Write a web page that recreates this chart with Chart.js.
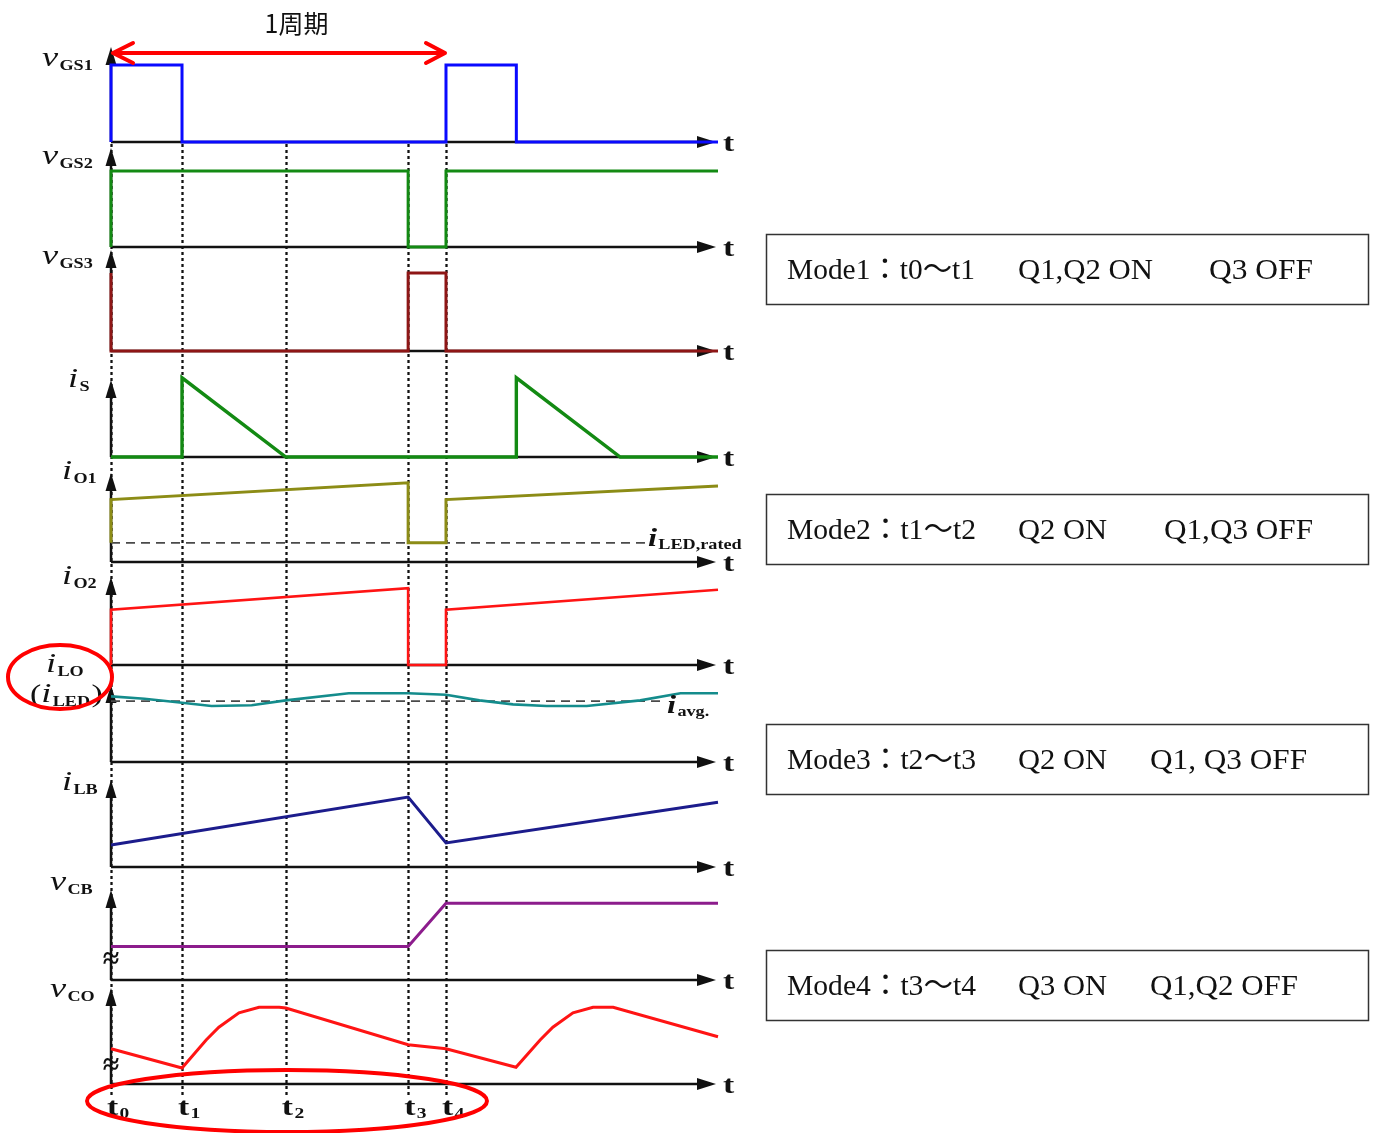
<!DOCTYPE html>
<html>
<head>
<meta charset="utf-8">
<title>1周期 動作モード波形</title>
<script src="https://cdn.jsdelivr.net/npm/chart.js@4/dist/chart.umd.min.js"></script>
<style>
  html, body { margin: 0; padding: 0; background: #ffffff; }
  canvas { display: block; }
</style>
</head>
<body>
<canvas id="wave" width="1375" height="1133"></canvas>
<script>
// ---- switching instants (one period: t0 .. t4) ----
const T0 = 0, T1 = 0.212, T2 = 0.522, T3 = 0.887, T4 = 1.0, T_END = 1.812;
const eventTimes = [T0, T1, T2, T3, T4];
const eventSubs = ['0', '1', '2', '3', '4'];

// ---- waveforms: [time, value] ----
const vGS1 = [[0, 0], [0, 1], [T1, 1], [T1, 0], [T4, 0], [T4, 1], [1.21, 1], [1.21, 0], [T_END, 0]];
const vGS2 = [[0, 0], [0, 1], [T3, 1], [T3, 0], [T4, 0], [T4, 1], [T_END, 1]];
const vGS3 = [[0, 1], [0, 0], [T3, 0], [T3, 1], [T4, 1], [T4, 0], [T_END, 0]];
const iS   = [[0, 0], [T1, 0], [T1, 0.99], [T2, 0], [1.21, 0], [1.21, 0.99], [1.52, 0], [T_END, 0]];
const iO1  = [[0, 0.24], [0, 0.78], [T3, 0.99], [T3, 0.24], [T4, 0.24], [T4, 0.78], [T_END, 0.95]];
const iO2  = [[0, 0], [0, 0.69], [T3, 0.96], [T3, 0], [T4, 0], [T4, 0.69], [T_END, 0.94]];
const iLO  = [[0, 0.82], [0.1, 0.79], [T1, 0.74], [0.3, 0.70], [0.42, 0.71], [T2, 0.77],
              [0.71, 0.86], [T3, 0.86], [T4, 0.84], [1.1, 0.77], [1.2, 0.72], [1.3, 0.70],
              [1.42, 0.70], [1.58, 0.77], [1.7, 0.86], [T_END, 0.86]];
const iLB  = [[0, 0.275], [T3, 0.875], [T4, 0.30], [T_END, 0.81]];
const vCB  = [[0, 0.42], [T3, 0.42], [T4, 0.96], [T_END, 0.96]];
const vCO  = [[0, 0.44], [T1, 0.20], [0.284, 0.55], [0.322, 0.71], [0.382, 0.89], [0.442, 0.96],
              [0.502, 0.96], [T2, 0.95], [T3, 0.49], [T4, 0.44], [1.209, 0.21], [1.281, 0.55],
              [1.319, 0.71], [1.379, 0.89], [1.439, 0.96], [1.499, 0.96], [T_END, 0.59]];

// reference levels
const iLEDrated = [[0, 0.24], [1.594, 0.24]];
const iAvg      = [[0, 0.76], [1.654, 0.76]];

// ---- mode table text ----
const modeText = [
  ['Mode1：t0～t1', 'Q1,Q2 ON', 'Q3 OFF'],
  ['Mode2：t1～t2', 'Q2 ON', 'Q1,Q3 OFF'],
  ['Mode3：t2～t3', 'Q2 ON', 'Q1, Q3 OFF'],
  ['Mode4：t3～t4', 'Q3 ON', 'Q1,Q2 OFF']
];
const periodLabel = '1周期';

// ---- panel layout / style (top to bottom) ----
// px: band height, unit: pixels per value unit, arrow: y-axis arrow length,
// lx/ly: label position (x, offset of baseline from the panel's zero line)
const panels = [
  { id: 'pVGS1', sym: 'v', sub: 'GS1', data: vGS1, color: '#0a0aff', lw: 3,   px: 102, unit: 77, arrow: 95,  lx: 42, ly: -76 },
  { id: 'pVGS2', sym: 'v', sub: 'GS2', data: vGS2, color: '#138a13', lw: 3,   px: 105, unit: 76, arrow: 99,  lx: 42, ly: -83 },
  { id: 'pVGS3', sym: 'v', sub: 'GS3', data: vGS3, color: '#8e1616', lw: 3,   px: 104, unit: 78, arrow: 101, lx: 42, ly: -87 },
  { id: 'pIS',   sym: 'i', sub: 'S',   data: iS,   color: '#138a13', lw: 3.4, px: 106, unit: 80, arrow: 77,  lx: 68, ly: -70 },
  { id: 'pIO1',  sym: 'i', sub: 'O1',  data: iO1,  color: '#8c8c16', lw: 3,   px: 105, unit: 80, arrow: 89,  lx: 62, ly: -83 },
  { id: 'pIO2',  sym: 'i', sub: 'O2',  data: iO2,  color: '#ff1414', lw: 2.6, px: 103, unit: 80, arrow: 88,  lx: 62, ly: -81 },
  { id: 'pILO',  sym: 'i', sub: 'LO',  data: iLO,  color: '#148c8c', lw: 2.6, px: 97,  unit: 80, arrow: 77,  lx: 46, ly: -90 },
  { id: 'pILB',  sym: 'i', sub: 'LB',  data: iLB,  color: '#1c1c8c', lw: 3,   px: 105, unit: 80, arrow: 87,  lx: 62, ly: -77 },
  { id: 'pVCB',  sym: 'v', sub: 'CB',  data: vCB,  color: '#8c1c8c', lw: 3,   px: 113, unit: 80, arrow: 90,  lx: 50, ly: -90 },
  { id: 'pVCO',  sym: 'v', sub: 'CO',  data: vCO,  color: '#ff1414', lw: 3,   px: 104, unit: 80, arrow: 96,  lx: 50, ly: -87 }
];

const SERIF = '"Liberation Serif", "DejaVu Serif", serif';
const STRETCH = 1.3;   // lettering in the diagram is set wide

function toXY(arr) { return arr.map(([x, y]) => ({ x, y })); }

// draw a sequence of text runs, horizontally stretched by sx
function drawRuns(ctx, x, y, runs, sx) {
  ctx.save();
  ctx.translate(x, y);
  ctx.scale(sx, 1);
  let cx = 0;
  for (const r of runs) {
    ctx.font = r.font;
    ctx.fillText(r.text, cx + (r.dx || 0), r.dy || 0);
    cx += ctx.measureText(r.text).width + (r.dx || 0);
  }
  ctx.restore();
}

// draw text squeezed/stretched to span [x1, x2]
function drawFit(ctx, text, x1, x2, y, font) {
  ctx.save();
  ctx.font = font;
  const w = ctx.measureText(text).width;
  ctx.translate(x1, y);
  ctx.scale((x2 - x1) / w, 1);
  ctx.fillText(text, 0, 0);
  ctx.restore();
}

const scales = {
  x: { type: 'linear', min: T0, max: T_END, display: false, bounds: 'data' }
};
// stacked axes are laid out top-down in reverse definition order
[...panels].reverse().forEach(p => {
  scales[p.id] = {
    type: 'linear', position: 'left', stack: 'wave', stackWeight: p.px,
    min: 0, max: p.px / p.unit, bounds: 'data', display: false
  };
});

const datasets = panels.map(p => ({
  label: p.sym + p.sub,
  data: toXY(p.data),
  yAxisID: p.id,
  borderColor: p.color,
  borderWidth: p.lw,
  borderJoinStyle: 'miter',
  pointRadius: 0,
  tension: 0,
  fill: false,
  clip: 8
}));
datasets.push({
  label: 'iLED,rated', data: toXY(iLEDrated), yAxisID: 'pIO1',
  borderColor: '#4a4a4a', borderWidth: 1.8, borderDash: [9, 6], pointRadius: 0, fill: false
});
datasets.push({
  label: 'iavg', data: toXY(iAvg), yAxisID: 'pILO',
  borderColor: '#4a4a4a', borderWidth: 1.8, borderDash: [9, 6], pointRadius: 0, fill: false
});

const diagram = {
  id: 'diagram',
  beforeDatasetsDraw(chart) {
    const ctx = chart.ctx;
    const xs = chart.scales.x;
    const x0 = xs.getPixelForValue(T0);
    const xEnd = xs.getPixelForValue(T_END);
    const firstBase = chart.scales[panels[0].id].getPixelForValue(0);
    const lastBase = chart.scales[panels[panels.length - 1].id].getPixelForValue(0);
    ctx.save();
    // dotted markers at the switching instants
    ctx.strokeStyle = '#111';
    ctx.lineWidth = 2.3;
    ctx.setLineDash([3, 3]);
    eventTimes.forEach(t => {
      const x = Math.round(xs.getPixelForValue(t)) + 0.5;
      ctx.beginPath();
      ctx.moveTo(x, firstBase + 2);
      ctx.lineTo(x, lastBase + 11);
      ctx.stroke();
    });
    ctx.setLineDash([]);
    // axes of each trace
    ctx.fillStyle = '#111';
    ctx.strokeStyle = '#111';
    panels.forEach(p => {
      const yb = chart.scales[p.id].getPixelForValue(0);
      ctx.lineWidth = 2.5;
      ctx.beginPath();
      ctx.moveTo(x0, yb);
      ctx.lineTo(xEnd - 16, yb);
      ctx.stroke();
      ctx.beginPath();
      ctx.moveTo(xEnd - 2, yb);
      ctx.lineTo(xEnd - 21, yb - 6);
      ctx.lineTo(xEnd - 21, yb + 6);
      ctx.closePath();
      ctx.fill();
      const yt = yb - p.arrow;
      ctx.beginPath();
      ctx.moveTo(x0, yb);
      ctx.lineTo(x0, yt + 12);
      ctx.stroke();
      ctx.beginPath();
      ctx.moveTo(x0, yt);
      ctx.lineTo(x0 - 5.5, yt + 18);
      ctx.lineTo(x0 + 5.5, yt + 18);
      ctx.closePath();
      ctx.fill();
    });
    ctx.restore();
  },
  afterDraw(chart) {
    const ctx = chart.ctx;
    const xs = chart.scales.x;
    const x0 = xs.getPixelForValue(T0);
    const x4 = xs.getPixelForValue(T4);
    const xEnd = xs.getPixelForValue(T_END);
    const lastBase = chart.scales[panels[panels.length - 1].id].getPixelForValue(0);
    ctx.save();
    ctx.fillStyle = '#111';
    ctx.textBaseline = 'alphabetic';
    ctx.textAlign = 'left';

    const symFont = 'italic 28px ' + SERIF;
    const subFont = 'bold 14px ' + SERIF;
    panels.forEach(p => {
      const yb = chart.scales[p.id].getPixelForValue(0);
      // time label at the arrow tip
      drawRuns(ctx, xEnd + 5, yb + 9, [{ text: 't', font: 'bold 26px ' + SERIF }], STRETCH);
      // trace name
      drawRuns(ctx, p.lx, yb + p.ly, [
        { text: p.sym, font: symFont },
        { text: p.sub, font: subFont, dy: 4, dx: 1 }
      ], STRETCH);
    });
    // second line of the inductor-current label
    const yLO = chart.scales.pILO.getPixelForValue(0);
    drawRuns(ctx, 30, yLO - 60, [
      { text: '(', font: '26px ' + SERIF },
      { text: 'i', font: symFont },
      { text: 'LED', font: subFont, dy: 4, dx: 1 },
      { text: ')', font: '26px ' + SERIF, dx: 1 }
    ], STRETCH);

    // break marks on the offset axes
    ctx.font = 'bold 30px ' + SERIF;
    ctx.textAlign = 'center';
    ctx.textBaseline = 'middle';
    ctx.fillText('≈', x0, chart.scales.pVCB.getPixelForValue(0) - 20);
    ctx.fillText('≈', x0, chart.scales.pVCO.getPixelForValue(0) - 18);
    ctx.textAlign = 'left';
    ctx.textBaseline = 'alphabetic';

    // reference level labels
    const yRated = chart.scales.pIO1.getPixelForValue(iLEDrated[0][1]);
    drawRuns(ctx, xs.getPixelForValue(iLEDrated[1][0]) + 3, yRated + 3, [
      { text: 'i', font: 'bold italic 25px ' + SERIF },
      { text: 'LED,rated', font: 'bold 14px ' + SERIF, dy: 3, dx: 1 }
    ], STRETCH);
    const yAvg = chart.scales.pILO.getPixelForValue(iAvg[0][1]);
    drawRuns(ctx, xs.getPixelForValue(iAvg[1][0]) + 2, yAvg + 12, [
      { text: 'i', font: 'bold italic 25px ' + SERIF },
      { text: 'avg.', font: 'bold 14px ' + SERIF, dy: 3, dx: 1 }
    ], STRETCH);

    // switching instant labels under the last trace
    eventTimes.forEach((t, i) => {
      const x = xs.getPixelForValue(t);
      drawRuns(ctx, x - 4, lastBase + 31, [
        { text: 't', font: 'bold 26px ' + SERIF },
        { text: eventSubs[i], font: 'bold 15px ' + SERIF, dy: 3, dx: 1 }
      ], STRETCH);
    });

    // one-period marker
    ctx.strokeStyle = '#ff0000';
    ctx.lineWidth = 4;
    ctx.lineCap = 'round';
    ctx.lineJoin = 'round';
    const ya = 53;
    ctx.beginPath();
    ctx.moveTo(x0 + 2, ya);
    ctx.lineTo(x4 - 1, ya);
    ctx.moveTo(x0 + 22, ya - 10);
    ctx.lineTo(x0 + 2, ya);
    ctx.lineTo(x0 + 22, ya + 10);
    ctx.moveTo(x4 - 20, ya - 10);
    ctx.lineTo(x4 - 1, ya);
    ctx.lineTo(x4 - 20, ya + 10);
    ctx.stroke();
    ctx.fillStyle = '#111';
    ctx.font = '25px "Noto Sans CJK JP", "Noto Sans", sans-serif';
    ctx.textAlign = 'center';
    ctx.textBaseline = 'middle';
    ctx.fillText(periodLabel, (x0 + x4) / 2 + 18, 23);

    // highlight rings
    ctx.lineWidth = 4;
    ctx.beginPath();
    ctx.ellipse(60, 677, 52, 32, 0, 0, Math.PI * 2);
    ctx.stroke();
    ctx.beginPath();
    ctx.ellipse(287, 1101, 200, 31, 0, 0, Math.PI * 2);
    ctx.stroke();

    // mode table
    const boxTops = [234, 494, 724, 950];
    const spans = [
      [[787, 975], [1018, 1153], [1209, 1313]],
      [[787, 976], [1018, 1107], [1164, 1313]],
      [[787, 976], [1018, 1107], [1150, 1307]],
      [[787, 976], [1018, 1107], [1150, 1298]]
    ];
    ctx.textAlign = 'left';
    ctx.textBaseline = 'alphabetic';
    ctx.strokeStyle = '#333';
    ctx.lineWidth = 1.5;
    ctx.lineCap = 'butt';
    ctx.lineJoin = 'miter';
    modeText.forEach((row, i) => {
      const top = boxTops[i];
      ctx.strokeRect(766.5, top + 0.5, 602, 70);
      ctx.fillStyle = '#111';
      row.forEach((txt, j) => {
        drawFit(ctx, txt, spans[i][j][0], spans[i][j][1], top + 45,
          '30px "Liberation Serif", "Noto Sans CJK JP", serif');
      });
    });
    ctx.restore();
  }
};

new Chart(document.getElementById('wave'), {
  type: 'line',
  data: { datasets },
  options: {
    responsive: false,
    animation: false,
    events: [],
    parsing: true,
    layout: { padding: { left: 111, right: 657, top: 40, bottom: 49 } },
    plugins: { legend: { display: false }, tooltip: { enabled: false } },
    scales
  },
  plugins: [diagram]
});
</script>
</body>
</html>
